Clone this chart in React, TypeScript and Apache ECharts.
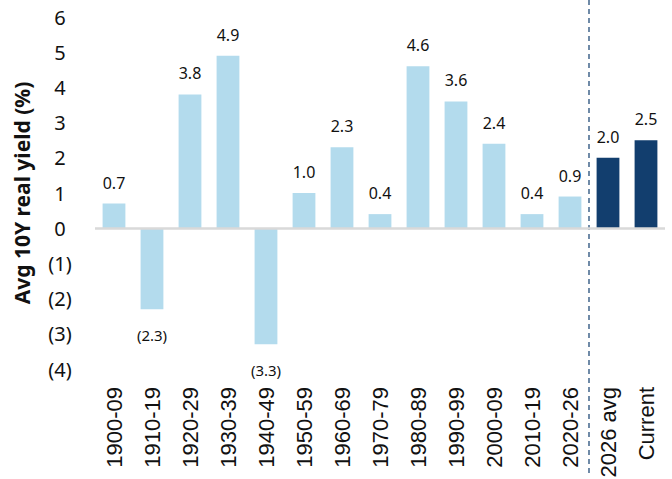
import React, { useEffect, useRef } from "react";
import * as echarts from "echarts";

const categories = [
  "1900-09", "1910-19", "1920-29", "1930-39", "1940-49", "1950-59", "1960-69",
  "1970-79", "1980-89", "1990-99", "2000-09", "2010-19", "2020-26", "2026 avg", "Current",
];
const values = [0.7, -2.3, 3.8, 4.9, -3.3, 1.0, 2.3, 0.4, 4.6, 3.6, 2.4, 0.4, 0.9, 2.0, 2.5];
const highlighted = ["2026 avg", "Current"];
const yTicks = [-4, -3, -2, -1, 0, 1, 2, 3, 4, 5, 6];

const LIGHT = "#b3dbed";
const NAVY = "#123e6e";
const FONT = "Noto Sans";

export default function App() {
  const ref = useRef<HTMLDivElement>(null);
  useEffect(() => {
    if (!ref.current) return;
    const chart = echarts.init(ref.current, null, { renderer: "svg" });
    const option: any = {
      animation: false,
      grid: { left: 95, right: 7, top: 17, bottom: 110, containLabel: false, outerBoundsMode: "none" },
      xAxis: {
        type: "category",
        data: categories,
        position: "bottom",
        axisLine: { show: false, onZero: false },
        axisTick: { show: false },
        axisLabel: {
          rotate: 90,
          interval: 0,
          margin: 18,
          fontSize: 22,
          fontFamily: "Liberation Sans",
          color: "#111",
        },
      },
      yAxis: {
        type: "value",
        min: yTicks[0],
        max: yTicks[yTicks.length - 1],
        interval: 1,
        splitLine: { show: false },
        axisLine: { show: false },
        axisTick: { show: false },
        name: "Avg 10Y real yield (%)",
        nameLocation: "middle",
        nameGap: 63,
        nameTextStyle: { fontSize: 21, fontWeight: "bold", fontFamily: FONT, color: "#111" },
        axisLabel: {
          margin: 35,
          align: "center",
          fontSize: 20,
          fontFamily: FONT,
          color: "#111",
          formatter: (v: number) => (v < 0 ? `(${Math.abs(v)})` : `${v}`),
        },
      },
      series: [
        {
          type: "bar",
          barWidth: "60%",
          data: values.map((v, i) => ({
            value: v,
            itemStyle: { color: highlighted.includes(categories[i]) ? NAVY : LIGHT },
            label: {
              show: true,
              position: v < 0 ? "bottom" : "top",
              distance: v < 0 ? 18 : 13,
              fontSize: v < 0 ? 15 : 16,
              fontFamily: FONT,
              color: "#111",
              formatter: () => (v < 0 ? `(${Math.abs(v).toFixed(1)})` : v.toFixed(1)),
            },
          })),
          markLine: {
            silent: true,
            symbol: "none",
            label: { show: false },
            lineStyle: { color: "#d9d9d9", width: 2.5, type: "solid" },
            data: [{ yAxis: 0 }],
          },
        },
      ],
    };
    chart.setOption(option);
    const a = chart.convertToPixel({ xAxisIndex: 0 }, categories[12]) as number;
    const b = chart.convertToPixel({ xAxisIndex: 0 }, categories[13]) as number;
    const x = (a + b) / 2;
    chart.setOption({
      graphic: [
        {
          type: "line",
          shape: { x1: x, y1: 0, x2: x, y2: 474 },
          style: { stroke: NAVY, lineWidth: 1.2, lineDash: [5, 4] },
          silent: true,
        },
      ],
    });
    return () => chart.dispose();
  }, []);
  return (
    <div
      ref={ref}
      style={{ position: "fixed", left: 0, top: 0, width: 672, height: 479, background: "#fff" }}
    />
  );
}
